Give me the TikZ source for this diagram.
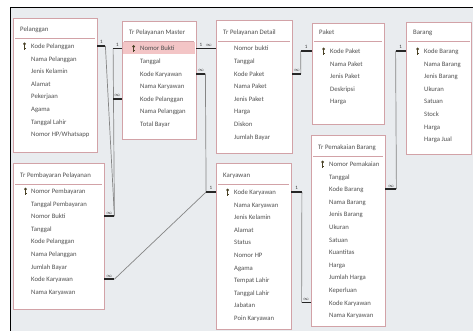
\documentclass[tikz,border=0pt]{standalone}
\usepackage{fontspec}
\setmainfont{Carlito}
\usetikzlibrary{fit,positioning}

\definecolor{latar}{HTML}{E9ECEF}
\definecolor{bingkai}{HTML}{D2A2A7}
\definecolor{sorot}{HTML}{F3C5C6}
\definecolor{teks}{HTML}{505050}
\definecolor{garisrel}{HTML}{858585}
\definecolor{kuncicol}{HTML}{4A4226}

% box, title and separator of one table: name, left, top, right, bottom, title y, title
\newcommand{\tabel}[7]{%
  \node[tabel, fit={(#2,#3) (#4,#5)}] (#1) {};
  \node[judul] (#1-judul) at (#2+7,#6) {#7};
  \draw[pemisah] (#2+2,#6+9.5) -- (#4-2,#6+9.5);
}
% field rows: name, left, first row y, fields
\newcommand{\baris}[4]{%
  \foreach \r [count=\i] in {#4}
    \node[kolom] (#1-\i) at (#2+18,#3+\i*12.6-12.6) {\r};
}
% primary key sign
\newcommand{\kunci}[2]{%
  \fill[kuncicol] (#1,#2-2) circle[radius=1.5pt];
  \fill[kuncicol] (#1-0.55,#2-2) rectangle (#1+0.55,#2+3.6);
  \fill[kuncicol] (#1+0.55,#2+1.7) rectangle (#1+1.6,#2+2.7);
}

\begin{document}
\begin{tikzpicture}[x=1pt, y=-1pt]
\tikzstyle{tabel}=[rectangle, inner sep=0pt, draw=bingkai, line width=0.8pt, fill=white]
\tikzstyle{judul}=[anchor=west, inner sep=0pt, text height=5pt, text depth=0pt, text=teks, font=\fontsize{6.8}{8}\selectfont]
\tikzstyle{kolom}=[anchor=west, inner sep=0pt, text height=5pt, text depth=0pt, text=teks, font=\fontsize{6.7}{8}\selectfont]
\tikzstyle{pemisah}=[draw=bingkai, line width=0.7pt]
\tikzstyle{ujung}=[draw=black!85, line width=1.7pt]
\tikzstyle{relasi}=[draw=garisrel, line width=0.7pt]
\tikzstyle{kardinal}=[font=\fontsize{5}{5}\selectfont, inner sep=0.6pt, text=black!80]

\useasboundingbox (0,0) rectangle (473,331);
\fill[white] (0,0) rectangle (473,331);
\fill[latar] (10,8) rectangle (473,331);
\draw[black, line width=1pt] (10,331) -- (10,8) -- (473,8);

%% Pelanggan
  \tabel{pelanggan}{13}{18}{97}{152}{29}{Pelanggan}
  \baris{pelanggan}{13}{46}{Kode Pelanggan, Nama Pelanggan, Jenis Kelamin, Alamat,
    Pekerjaan, Agama, Tanggal Lahir, Nomor HP/Whatsapp}
  \kunci{24.5}{46}

%% Tr Pelayanan Master
  \tabel{master}{122}{21}{196}{139}{32}{Tr Pelayanan Master}
  \fill[sorot] (122.6,42.5) rectangle (195.4,54.5);
  \baris{master}{122}{48.5}{Nomor Bukti, Tanggal, Kode Karyawan, Nama Karyawan,
    Kode Pelanggan, Nama Pelanggan, Total Bayar}
  \kunci{133.5}{48.5}

%% Tr Pelayanan Detail
  \tabel{detail}{216}{20}{292}{153}{32}{Tr Pelayanan Detail}
  \baris{detail}{216}{48.5}{Nomor bukti, Tanggal, Kode Paket, Nama Paket, Jenis Paket,
    Harga, Diskon, Jumlah Bayar}

%% Paket
  \tabel{paket}{312}{23}{384}{124}{32}{Paket}
  \baris{paket}{312}{51}{Kode Paket, Nama Paket, Jenis Paket, Deskripsi, Harga}
  \kunci{323.5}{51}

%% Barang
  \tabel{barang}{406}{22}{471.5}{154}{32}{Barang}
  \baris{barang}{406}{51}{Kode Barang, Nama Barang, Jenis Barang, Ukuran, Satuan,
    Stock, Harga, Harga Jual}
  \kunci{417.5}{51}

%% Tr Pemakaian Barang
  \tabel{pemakaian}{311}{135}{385}{326}{147}{Tr Pemakaian Barang}
  \baris{pemakaian}{311}{164}{Nomor Pemakaian, Tanggal, Kode Barang, Nama Barang,
    Jenis Barang, Ukuran, Satuan, Kuantitas, Harga, Jumlah Harga, Keperluan,
    Kode Karyawan, Nama Karyawan}
  \kunci{322.5}{164}

%% Karyawan
  \tabel{karyawan}{216}{163}{291}{329}{175}{Karyawan}
  \baris{karyawan}{216}{192}{Kode Karyawan, Nama Karyawan, Jenis Kelamin, Alamat,
    Status, Nomor HP, Agama, Tempat Lahir, Tanggal Lahir, Jabatan, Poin Karyawan}
  \kunci{227.5}{192}

%% Tr Pembayaran Pelayanan
  \tabel{pembayaran}{13}{163}{104}{309}{175}{Tr Pembayaran Pelayanan}
  \baris{pembayaran}{13}{191}{Nomor Pembayaran, Tanggal Pembayaran, Nomor Bukti,
    Tanggal, Kode Pelanggan, Nama Pelanggan, Jumlah Bayar, Kode Karyawan, Nama Karyawan}
  \kunci{25.5}{191}

  % stub ends
  \coordinate (a1) at ([xshift=8pt]pelanggan.east |- pelanggan-1);
  \coordinate (b1) at ([xshift=-8.5pt]master.west |- master-1);
  \coordinate (c1) at ([xshift=-8.5pt]master.west |- master-5);
  \coordinate (d1) at ([xshift=10pt]pembayaran.east |- pembayaran-3);
  \coordinate (e1) at ([xshift=10pt]master.east |- master-1);
  \coordinate (f1) at ([xshift=9pt]master.east |- master-3);
  \coordinate (g1) at ([xshift=-9.5pt]karyawan.west |- karyawan-1);
  \coordinate (h1) at ([xshift=10pt]pembayaran.east |- pembayaran-8);
  \coordinate (i1) at ([xshift=8.5pt]detail.east |- detail-3);
  \coordinate (j1) at ([xshift=-11pt]paket.west |- paket-1);
  \coordinate (k1) at ([xshift=-10pt]barang.west |- barang-1);
  \coordinate (l1) at ([xshift=11pt]pemakaian.east |- pemakaian-3);
  \coordinate (m1) at ([xshift=10.5pt]karyawan.east |- karyawan-1);
  \coordinate (n1) at ([xshift=-9pt]pemakaian.west |- pemakaian-12);

  \path
       %% relation lines
       (a1) edge [relasi] (d1)
       (b1) edge [relasi] (d1)
       (f1) edge [relasi] (g1)
       (h1) edge [relasi] (g1)
       (i1) edge [relasi] (j1)
       (k1) edge [relasi] (l1)
       (m1) edge [relasi] (n1)

       %% Pelanggan, Master, Pembayaran
       (pelanggan.east |- pelanggan-1) edge [ujung] node [kardinal, above=0.6pt] {1} (a1)
       (master.west |- master-1) edge [ujung] node [kardinal, above=0.6pt] {1} (b1)
       (master.west |- master-5) edge [ujung] node [kardinal, above=0.6pt] {$\infty$} (c1)
       (pembayaran.east |- pembayaran-3) edge [ujung] node [kardinal, above=0.6pt] {$\infty$} (d1)

       %% Master, Detail, Karyawan
       (master.east |- master-1) edge [ujung] node [kardinal, above=0.6pt, pos=0.45] {1} (e1)
       (detail.west |- detail-1) edge [ujung] node [kardinal, above=0.6pt, pos=0.75] {$\infty$} (e1)
       (master.east |- master-3) edge [ujung] node [kardinal, above=0.6pt] {$\infty$} (f1)
       (karyawan.west |- karyawan-1) edge [ujung] node [kardinal, above=0.6pt] {1} (g1)
       (pembayaran.east |- pembayaran-8) edge [ujung] node [kardinal, above=0.6pt] {$\infty$} (h1)

       %% Paket, Barang, Pemakaian
       (detail.east |- detail-3) edge [ujung] node [kardinal, above=0.6pt] {$\infty$} (i1)
       (paket.west |- paket-1) edge [ujung] node [kardinal, above=0.6pt] {1} (j1)
       (barang.west |- barang-1) edge [ujung] node [kardinal, above=0.6pt] {1} (k1)
       (pemakaian.east |- pemakaian-3) edge [ujung] node [kardinal, above=0.6pt] {$\infty$} (l1)
       (karyawan.east |- karyawan-1) edge [ujung] node [kardinal, above=0.6pt] {1} (m1)
       (pemakaian.west |- pemakaian-12) edge [ujung] node [kardinal, above=0.6pt] {$\infty$} (n1);
\end{tikzpicture}
\end{document}
